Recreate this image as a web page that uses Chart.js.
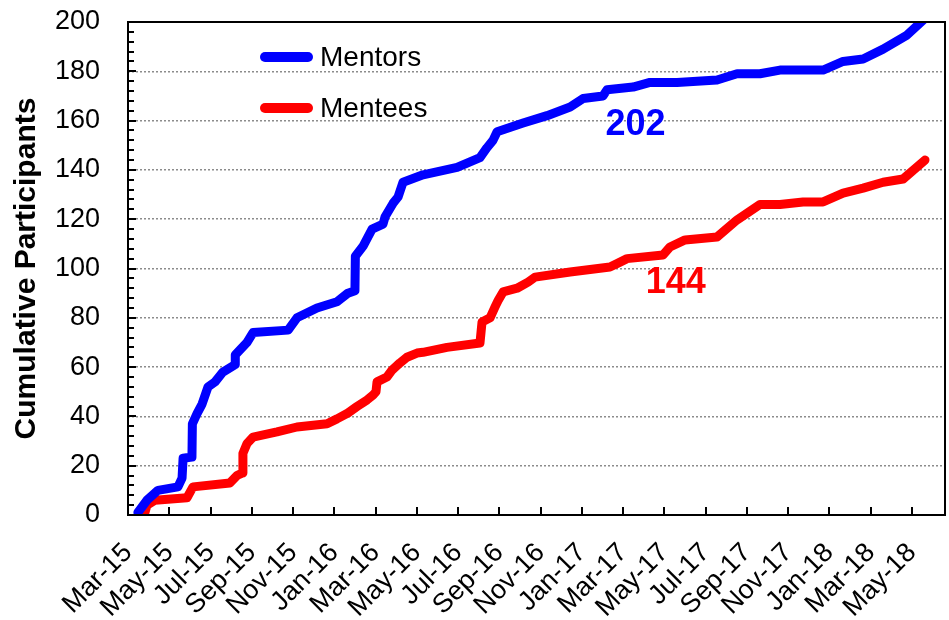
<!DOCTYPE html>
<html>
<head>
<meta charset="utf-8">
<script src="https://cdn.jsdelivr.net/npm/chart.js@4.4.1/dist/chart.umd.min.js"></script>
<style>
  html, body { margin: 0; padding: 0; background: #fff; }
  #wrap { width: 949px; height: 620px; }
</style>
</head>
<body>
<div id="wrap"><canvas id="chart" width="949" height="620"></canvas></div>
<script>
// x values are months since Mar-15
const monthLabels = ['Mar-15', 'May-15', 'Jul-15', 'Sep-15', 'Nov-15', 'Jan-16', 'Mar-16', 'May-16',
  'Jul-16', 'Sep-16', 'Nov-16', 'Jan-17', 'Mar-17', 'May-17', 'Jul-17', 'Sep-17', 'Nov-17',
  'Jan-18', 'Mar-18', 'May-18'];

const mentorMonths = [0.48, 0.92, 1.45, 2.42, 2.62, 2.67, 3.10, 3.12, 3.34, 3.59, 3.88, 4.22, 4.60,
  5.19, 5.20, 5.77, 6.06, 7.76, 8.19, 9.16, 10.13, 10.66, 11.00, 11.02, 11.39, 11.83, 12.36, 12.46,
  12.85, 13.09, 13.33, 14.30, 15.95, 17.06, 17.40, 17.69, 17.89, 19.15, 20.31, 21.43, 22.06, 23.02,
  23.22, 24.48, 25.30, 26.61, 28.55, 29.52, 30.63, 31.60, 33.69, 34.66, 35.63, 36.60, 37.76, 38.70];
const mentorValues = [1, 6, 10, 11.4, 15, 23, 23.5, 37, 41, 45, 52, 54, 58,
  61, 65, 70, 74, 75, 80, 84, 86.5, 90, 91, 105, 109, 116, 118, 121,
  126.5, 129, 135, 138, 141, 145, 149, 152, 155.5, 159, 162, 165.5, 169, 170,
  172.5, 173.6, 175.5, 175.5, 176.5, 179, 179, 180.5, 180.5, 184, 185, 189, 194.7, 202];

const menteeMonths = [0.82, 0.92, 1.31, 2.86, 3.15, 4.94, 5.28, 5.53, 5.57, 5.77, 6.06, 7.22, 8.19,
  9.65, 10.13, 10.66, 11.10, 11.59, 11.88, 12.02, 12.07, 12.55, 12.80, 13.18, 13.52, 14.01, 14.30,
  15.46, 17.06, 17.16, 17.55, 17.79, 17.94, 18.18, 18.86, 19.39, 19.73, 21.43, 23.36, 23.85, 24.19,
  25.93, 26.27, 27.00, 28.55, 29.52, 30.63, 31.60, 32.72, 33.69, 34.66, 35.63, 36.60, 37.57, 38.63];
const menteeValues = [1, 4, 6, 7, 11.4, 13, 16, 17, 25, 29, 31.6, 33.7, 35.7,
  37, 39, 41.4, 44, 46.7, 48.7, 50, 54, 56, 58.8, 61.7, 64, 65.7, 66,
  68, 69.8, 78.3, 80, 84.4, 87, 90.5, 92, 94.5, 96.5, 98.6, 100.6, 102.6, 104,
  105.5, 108.7, 111.6, 112.8, 119.7, 126, 126, 127, 127, 130.6, 132.6, 135, 136.3, 144];

const FONT = 'Arial, "Liberation Sans", sans-serif';

function toPoints(xs, ys) {
  return xs.map((x, i) => ({ x: x, y: ys[i] }));
}

// frame, inward ticks, legend and end labels
const decorPlugin = {
  id: 'decor',
  afterDraw(chart) {
    const ctx = chart.ctx;
    const a = chart.chartArea;
    const xs = chart.scales.x;
    const ys = chart.scales.y;
    ctx.save();
    ctx.strokeStyle = '#000';
    ctx.lineWidth = 2;
    ctx.beginPath();
    for (let v = 0; v <= 200; v += 4) {
      const py = Math.round(ys.getPixelForValue(v));
      ctx.moveTo(a.left, py);
      ctx.lineTo(a.left + (v % 20 === 0 ? 8 : 6), py);
    }
    monthLabels.forEach((l, i) => {
      const px = Math.round(xs.getPixelForValue(i * 2));
      ctx.moveTo(px, a.bottom);
      ctx.lineTo(px, a.bottom - 8);
    });
    ctx.stroke();
    ctx.strokeRect(a.left, a.top, a.right - a.left, a.bottom - a.top);

    // legend
    ctx.font = '28px ' + FONT;
    ctx.textBaseline = 'middle';
    ctx.textAlign = 'left';
    chart.data.datasets.forEach((ds, i) => {
      const ly = a.top + 35 + i * 51;
      ctx.strokeStyle = ds.borderColor;
      ctx.lineWidth = 10;
      ctx.lineCap = 'round';
      ctx.beginPath();
      ctx.moveTo(a.left + 137, ly);
      ctx.lineTo(a.left + 180, ly);
      ctx.stroke();
      ctx.fillStyle = '#000';
      ctx.fillText(ds.label, a.left + 192, ly + 1);
    });

    // final totals
    ctx.font = 'bold 36px ' + FONT;
    ctx.textAlign = 'center';
    ctx.fillStyle = '#0000ff';
    ctx.fillText('202', xs.getPixelForValue(24.6), ys.getPixelForValue(158));
    ctx.fillStyle = '#ff0000';
    ctx.fillText('144', xs.getPixelForValue(26.55), ys.getPixelForValue(94));
    ctx.restore();
  }
};

new Chart(document.getElementById('chart'), {
  type: 'line',
  data: {
    datasets: [{
      label: 'Mentors',
      data: toPoints(mentorMonths, mentorValues),
      borderColor: '#0000ff',
      borderWidth: 9,
      pointRadius: 0,
      tension: 0,
      borderJoinStyle: 'round',
      borderCapStyle: 'round'
    }, {
      label: 'Mentees',
      data: toPoints(menteeMonths, menteeValues),
      borderColor: '#ff0000',
      borderWidth: 9,
      pointRadius: 0,
      tension: 0,
      borderJoinStyle: 'round',
      borderCapStyle: 'round'
    }]
  },
  options: {
    responsive: false,
    devicePixelRatio: 1,
    animation: false,
    layout: { padding: { top: 22, right: 4, left: 0, bottom: 0 } },
    plugins: {
      legend: { display: false },
      tooltip: { enabled: false }
    },
    scales: {
      x: {
        type: 'linear',
        min: 0,
        max: 39.6,
        afterBuildTicks: (scale) => {
          scale.ticks = monthLabels.map((l, i) => ({ value: i * 2 }));
        },
        afterFit: (scale) => {
          scale.height = 105;
          scale.paddingLeft = 0;
          scale.paddingRight = 0;
        },
        grid: { display: false, drawTicks: false },
        border: { display: false },
        ticks: {
          autoSkip: false,
          minRotation: 45,
          maxRotation: 45,
          padding: 22,
          color: '#000',
          font: { family: FONT, size: 27 },
          callback: (v) => monthLabels[Math.round(v / 2)]
        }
      },
      y: {
        min: 0,
        max: 200,
        afterFit: (scale) => {
          scale.width = 128;
          scale.paddingTop = 0;
          scale.paddingBottom = 0;
        },
        grid: {
          color: '#8c8c8c',
          lineWidth: 1.5,
          drawTicks: false,
          borderDash: [2, 2]
        },
        border: { display: false, dash: [2, 2] },
        ticks: {
          stepSize: 20,
          padding: 28,
          color: '#000',
          font: { family: FONT, size: 27 }
        },
        title: {
          display: true,
          text: 'Cumulative Participants',
          color: '#000',
          font: { family: FONT, size: 30, weight: 'bold' },
          padding: { top: 9, bottom: 0 }
        }
      }
    }
  },
  plugins: [decorPlugin]
});
</script>
</body>
</html>
